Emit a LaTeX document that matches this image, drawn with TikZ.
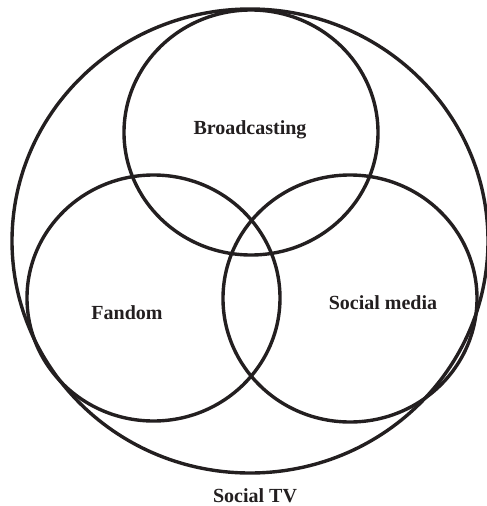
\documentclass[tikz,border=0pt]{standalone}
\usepackage{fontspec}
\setmainfont{Liberation Serif}
\usepackage{tikz}
\definecolor{ink}{HTML}{231F20}

\begin{document}
\begin{tikzpicture}[x=1pt,y=-1pt,every node/.style={font=\fontsize{20}{24}\selectfont\bfseries,text=ink}]
\useasboundingbox (0,0) rectangle (487,506);
\draw[ink,line width=3.4pt] (250,241) ellipse [x radius=238,y radius=232];
\draw[ink,line width=3.4pt] (251,132.5) ellipse [x radius=127,y radius=122.5];
\draw[ink,line width=3.4pt] (153.5,298) ellipse [x radius=126.5,y radius=123];
\draw[ink,line width=3.4pt] (350,298.5) ellipse [x radius=127,y radius=123.5];
\node (bc) at (250,130) {Broadcasting};
\node (fan) at (127,313) {Fandom};
\node (sm) at (383,303) {Social media};
\node (stv) at (255,496) {Social TV};
\end{tikzpicture}
\end{document}
